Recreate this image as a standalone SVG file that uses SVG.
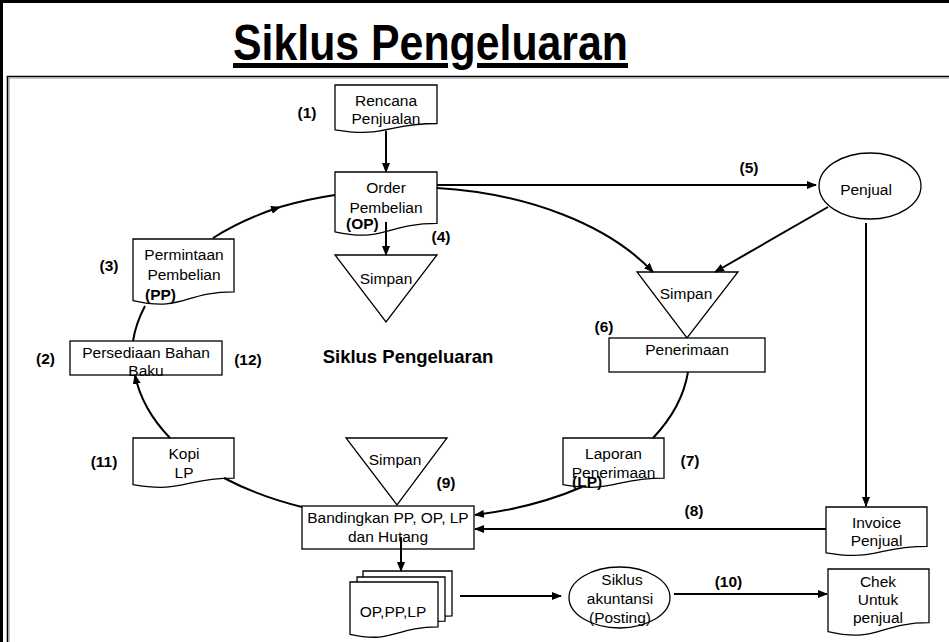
<svg xmlns="http://www.w3.org/2000/svg" width="949" height="642" viewBox="0 0 949 642">
<defs>
<style>
text{font-family:"Liberation Sans",Arial,sans-serif;font-size:15.5px;fill:#000;text-anchor:middle}
.b{font-weight:bold}
.s{fill:#fff;stroke:#000;stroke-width:1.3}
.c{fill:none;stroke:#000;stroke-width:2}
.a{marker-end:url(#ah)}
</style>
<marker id="ah" markerWidth="10" markerHeight="8" refX="9" refY="4" orient="auto" markerUnits="userSpaceOnUse"><path d="M0,0 L10,4 L0,8 Z" fill="#000"/></marker>
</defs>
<rect x="0" y="0" width="949" height="642" fill="#fff"/>
<path d="M1.5,645 V1.5 H952" fill="none" stroke="#000" stroke-width="3"/>
<path d="M7.5,650 V76.5 H955" fill="none" stroke="#000" stroke-width="1.6"/>
<path d="M9,650 V78 H955" fill="none" stroke="#999" stroke-width="1.2"/>
<text x="430.5" y="60" class="b" style="font-size:50px;text-decoration:underline" textLength="395" lengthAdjust="spacingAndGlyphs">Siklus Pengeluaran</text>

<g id="rencana"><path class="s" d="M335,85 H437 V123.5 C386,123.5 386,138.1 335,129.8 Z"/><text x="386" y="106">Rencana</text><text x="386" y="124">Penjualan</text></g>
<g id="op"><path class="s" d="M335,172 H437 V223.3 C386,223.3 386,242.8 335,231.8 Z"/><text x="386" y="193">Order</text><text x="386" y="213">Pembelian</text><text x="346" y="229" class="b" style="text-anchor:start">(OP)</text></g>
<g id="simpan1"><path class="s" d="M335,255 H437 L386,322 Z"/><text x="386" y="284">Simpan</text></g>
<g id="pp"><path class="s" d="M133,239 H234 V291.9 C183.5,291.9 183.5,312.1 133,300.6 Z"/><text x="184" y="260">Permintaan</text><text x="184" y="280">Pembelian</text><text x="145" y="300" class="b" style="text-anchor:start">(PP)</text></g>
<g id="persediaan"><rect class="s" x="70" y="341" width="152" height="34"/><text x="146" y="358">Persediaan Bahan</text><text x="146" y="376">Baku</text></g>
<g id="penjual"><ellipse class="s" cx="870" cy="186" rx="51" ry="33"/><text x="866" y="195">Penjual</text></g>
<g id="simpan2"><path class="s" d="M637,272 H738 L687,338 Z"/><text x="686" y="299">Simpan</text></g>
<g id="penerimaan"><rect class="s" x="609" y="338" width="156" height="34"/><text x="687" y="355">Penerimaan</text></g>
<g id="lp"><path class="s" d="M563,438 H664 V478.1 C613.5,478.1 613.5,493.4 563,484.7 Z"/><text x="613.5" y="459">Laporan</text><text x="613.5" y="478">Penerimaan</text><text x="572" y="487" class="b" style="text-anchor:start">(LP)</text></g>
<g id="invoice"><path class="s" d="M826,507 H927 V546.3 C876.5,546.3 876.5,561.2 826,552.8 Z"/><text x="876.5" y="528">Invoice</text><text x="876.5" y="546">Penjual</text></g>
<g id="kopi"><path class="s" d="M133,438 H234 V478.1 C183.5,478.1 183.5,493.4 133,484.7 Z"/><text x="184" y="459">Kopi</text><text x="184" y="478">LP</text></g>
<g id="simpan3"><path class="s" d="M346,438 H447 L397,505 Z"/><text x="395" y="465">Simpan</text></g>
<g id="bandingkan"><rect class="s" x="302" y="506" width="172" height="43"/><text x="388" y="523">Bandingkan PP, OP, LP</text><text x="388" y="542">dan Hutang</text></g>
<g id="stack"><path class="s" d="M363,571 H452 V615.9 C407.5,615.9 407.5,633 363,623.3 Z"/><path class="s" d="M357,577 H445 V621.1 C401,621.1 401,637.9 357,628.4 Z"/><path class="s" d="M350,582 H438 V626.9 C394,626.9 394,644 350,634.3 Z"/><text x="393" y="617">OP,PP,LP</text></g>
<g id="siklus"><ellipse class="s" cx="619.5" cy="597.5" rx="50.5" ry="30.5"/><text x="622" y="585">Siklus</text><text x="620" y="604">akuntansi</text><text x="620" y="623">(Posting)</text></g>
<g id="chek"><path class="s" d="M828,569 H929 V622.7 C878.5,622.7 878.5,643.2 828,631.6 Z"/><text x="878" y="587">Chek</text><text x="878" y="605">Untuk</text><text x="878" y="623">penjual</text></g>

<g id="labels" class="b">
<text x="307" y="118" class="b">(1)</text>
<text x="441" y="242" class="b">(4)</text>
<text x="109" y="271" class="b">(3)</text>
<text x="45.5" y="364" class="b">(2)</text>
<text x="248" y="365" class="b">(12)</text>
<text x="408" y="363" class="b" style="font-size:18.5px">Siklus Pengeluaran</text>
<text x="749" y="173" class="b">(5)</text>
<text x="604" y="332" class="b">(6)</text>
<text x="690" y="466" class="b">(7)</text>
<text x="694" y="516" class="b">(8)</text>
<text x="104" y="467" class="b">(11)</text>
<text x="446" y="488" class="b">(9)</text>
<text x="728.5" y="587" class="b">(10)</text>
</g>

<g id="connectors">
<path class="c a" d="M386,131 V172"/>
<path class="c a" d="M386,222 V255"/>
<path class="c a" d="M437,185 H816"/>
<path class="c a" d="M437,188 A280,167 0 0 1 653,272"/>
<path class="c a" d="M828,207 L715,272"/>
<path class="c a" d="M866,223 V506"/>
<path class="c" d="M688,372 A280,167 0 0 1 653,438"/>
<path class="c a" d="M582,487 A280,167 0 0 1 475,515"/>
<path class="c a" d="M826,529 H475"/>
<path class="c" d="M302,507 A280,167 0 0 1 224,478"/>
<path class="c a" d="M170,438 A280,167 0 0 1 135,375"/>
<path class="c" d="M133,341 A280,167 0 0 1 145,306"/>
<path class="c a" d="M213,238 A280,167 0 0 1 280,207"/>
<path class="c" d="M280,207 A280,167 0 0 1 335,195"/>
<path class="c a" d="M401,537 V571"/>
<path class="c a" d="M460,596 H561"/>
<path class="c a" d="M674,594 H827"/>
</g>
</svg>
